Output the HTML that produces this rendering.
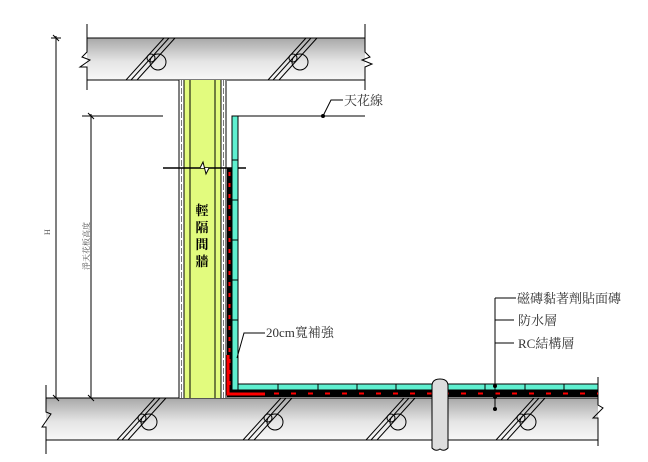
<!DOCTYPE html>
<html><head><meta charset="utf-8"><style>
html,body{margin:0;padding:0;background:#fff;}
svg{display:block;}
text{font-family:"Liberation Serif","Noto Serif CJK SC","Noto Sans CJK TC",serif;}
</style></head><body>
<svg width="648" height="462" viewBox="0 0 648 462" xmlns="http://www.w3.org/2000/svg">
<defs>
<linearGradient id="g" x1="0" y1="0" x2="0" y2="1">
<stop offset="0" stop-color="#a8a8a8"/><stop offset="0.55" stop-color="#e4e4e4"/><stop offset="1" stop-color="#f8f8f8"/>
</linearGradient>
<g id="rebar" fill="none" stroke="#000" stroke-width="1">
<line x1="0" y1="42" x2="38" y2="0"/><line x1="5" y1="42" x2="43" y2="0"/><line x1="11" y1="42" x2="49" y2="0"/>
<circle cx="32" cy="24" r="8" fill="none"/><circle cx="25" cy="20" r="4" fill="none"/>
</g>
</defs>
<!-- top slab -->
<rect x="87" y="38" width="278" height="42" fill="url(#g)"/>
<line x1="87" y1="38" x2="365" y2="38" stroke="#000"/><line x1="87" y1="80" x2="365" y2="80" stroke="#000"/>
<polyline points="87,24 87,52 82,57 90,60 80,67 87,67 87,90" fill="none" stroke="#000"/>
<polyline points="365,24 365,52 370,57 362,60 372,64 365,67 365,90" fill="none" stroke="#000"/>
<use href="#rebar" x="126" y="38"/><use href="#rebar" x="268" y="38"/>
<!-- bottom slab -->
<rect x="46" y="398" width="552" height="42" fill="url(#g)"/>
<line x1="46" y1="398" x2="598" y2="398" stroke="#000"/><line x1="46" y1="440" x2="598" y2="440" stroke="#000"/>
<polyline points="46,385 46,412 51,414 42,427 46,427 46,454" fill="none" stroke="#000"/>
<polyline points="598,377 598,405 603,408 593,418 598,418 598,446" fill="none" stroke="#000"/>
<use href="#rebar" x="117" y="398"/><use href="#rebar" x="243" y="398"/><use href="#rebar" x="366" y="398"/><use href="#rebar" x="496" y="398"/>
<!-- wall -->
<rect x="179" y="80" width="48" height="318" fill="#fff"/>
<rect x="184" y="80" width="37" height="318" fill="#e2fb7e"/>
<g stroke="#000" fill="none" stroke-width="1">
<line x1="179" y1="80" x2="179" y2="398"/><line x1="184" y1="80" x2="184" y2="398"/>
<line x1="190" y1="80" x2="190" y2="398"/><line x1="215" y1="80" x2="215" y2="398"/>
<line x1="221" y1="80" x2="221" y2="398"/><line x1="226" y1="80" x2="226" y2="398"/>
<line x1="181.5" y1="80" x2="181.5" y2="398" stroke="#777" stroke-dasharray="6,2"/>
<line x1="223.5" y1="80" x2="223.5" y2="398" stroke="#777" stroke-dasharray="6,2"/>
<line x1="163" y1="168" x2="246" y2="168" stroke-width="1.5"/>
<polyline points="195,168 200,168 203,162 206,174 209,168 214,168" fill="#fff"/>
</g>
<text x="202" y="215" font-size="13" font-weight="bold" text-anchor="middle" font-family="Liberation Sans,Noto Sans CJK TC,sans-serif">輕</text>
<text x="202" y="232" font-size="13" font-weight="bold" text-anchor="middle" font-family="Liberation Sans,Noto Sans CJK TC,sans-serif">隔</text>
<text x="202" y="249" font-size="13" font-weight="bold" text-anchor="middle" font-family="Liberation Sans,Noto Sans CJK TC,sans-serif">間</text>
<text x="202" y="266" font-size="13" font-weight="bold" text-anchor="middle" font-family="Liberation Sans,Noto Sans CJK TC,sans-serif">牆</text>
<!-- waterproof + tiles vertical -->
<rect x="227" y="168" width="5" height="229" fill="#000"/>
<line x1="229.5" y1="172" x2="229.5" y2="392" stroke="#f00" stroke-width="2" stroke-dasharray="4,7"/>
<rect x="232" y="116" width="6" height="274" fill="#5ff0d0" stroke="#000" stroke-width="1"/>
<g stroke="#000"><line x1="232" y1="160" x2="238" y2="160"/><line x1="232" y1="200" x2="238" y2="200"/><line x1="232" y1="240" x2="238" y2="240"/><line x1="232" y1="280" x2="238" y2="280"/><line x1="232" y1="320" x2="238" y2="320"/></g>
<!-- floor layers -->
<rect x="227" y="390" width="371" height="7" fill="#000"/>
<line x1="240" y1="393.5" x2="598" y2="393.5" stroke="#f00" stroke-width="2" stroke-dasharray="5,12"/>
<rect x="238" y="384" width="360" height="6" fill="#5ff0d0" stroke="#000" stroke-width="1"/>
<g stroke="#000"><line x1="278" y1="384" x2="278" y2="390"/><line x1="318" y1="384" x2="318" y2="390"/><line x1="357" y1="384" x2="357" y2="390"/><line x1="396" y1="384" x2="396" y2="390"/><line x1="485" y1="384" x2="485" y2="390"/><line x1="525" y1="384" x2="525" y2="390"/><line x1="564" y1="384" x2="564" y2="390"/></g>
<polyline points="228,355 228,394 265,394" fill="none" stroke="#f00" stroke-width="3"/>
<!-- pipe -->
<path d="M432,386 Q432,379 440,379 Q448,379 448,386 L448,448 Q444,452 440,449 Q436,452 432,448 Z" fill="#ddd" stroke="#000"/>
<!-- ceiling line -->
<line x1="232" y1="116" x2="365" y2="116" stroke="#000"/>
<line x1="82" y1="116" x2="163" y2="116" stroke="#000"/>
<circle cx="323" cy="116" r="2" fill="#000"/>
<polyline points="323,116 331,100 343,100" fill="none" stroke="#000"/>
<text x="344" y="105" font-size="13" fill="#333">天花線</text>
<!-- dimensions -->
<g stroke="#000" fill="none">
<line x1="56" y1="36" x2="56" y2="398"/><line x1="51" y1="38" x2="61" y2="38"/><line x1="53" y1="35" x2="59" y2="41"/><line x1="53" y1="395" x2="59" y2="401"/>
<line x1="91" y1="114" x2="91" y2="398"/><line x1="83" y1="116" x2="97" y2="116"/><line x1="88" y1="113" x2="94" y2="119"/><line x1="88" y1="395" x2="94" y2="401"/>
</g>
<text x="0" y="0" font-size="8" fill="#555" transform="translate(50,235) rotate(-90)">H</text>
<text x="0" y="0" font-size="8" fill="#555" transform="translate(89,270) rotate(-90)">淨天花板高度</text>
<!-- 20cm label -->
<polyline points="237,358 244,333 265,333" fill="none" stroke="#000"/>
<text x="266" y="337" font-size="13" fill="#333">20cm寬補強</text>
<!-- right labels -->
<line x1="495" y1="298" x2="495" y2="410" stroke="#000"/>
<line x1="495" y1="298" x2="516" y2="298" stroke="#000"/>
<line x1="495" y1="320" x2="514" y2="320" stroke="#000"/>
<line x1="495" y1="343" x2="514" y2="343" stroke="#000"/>
<circle cx="495" cy="386" r="2" fill="#000"/><circle cx="495" cy="397" r="2" fill="#000"/><circle cx="495" cy="409" r="2" fill="#000"/>
<text x="517" y="303" font-size="13" fill="#333">磁磚黏著劑貼面磚</text>
<text x="518" y="325" font-size="13" fill="#333">防水層</text>
<text x="518" y="348" font-size="13" fill="#333">RC結構層</text>
</svg>
</body></html>
